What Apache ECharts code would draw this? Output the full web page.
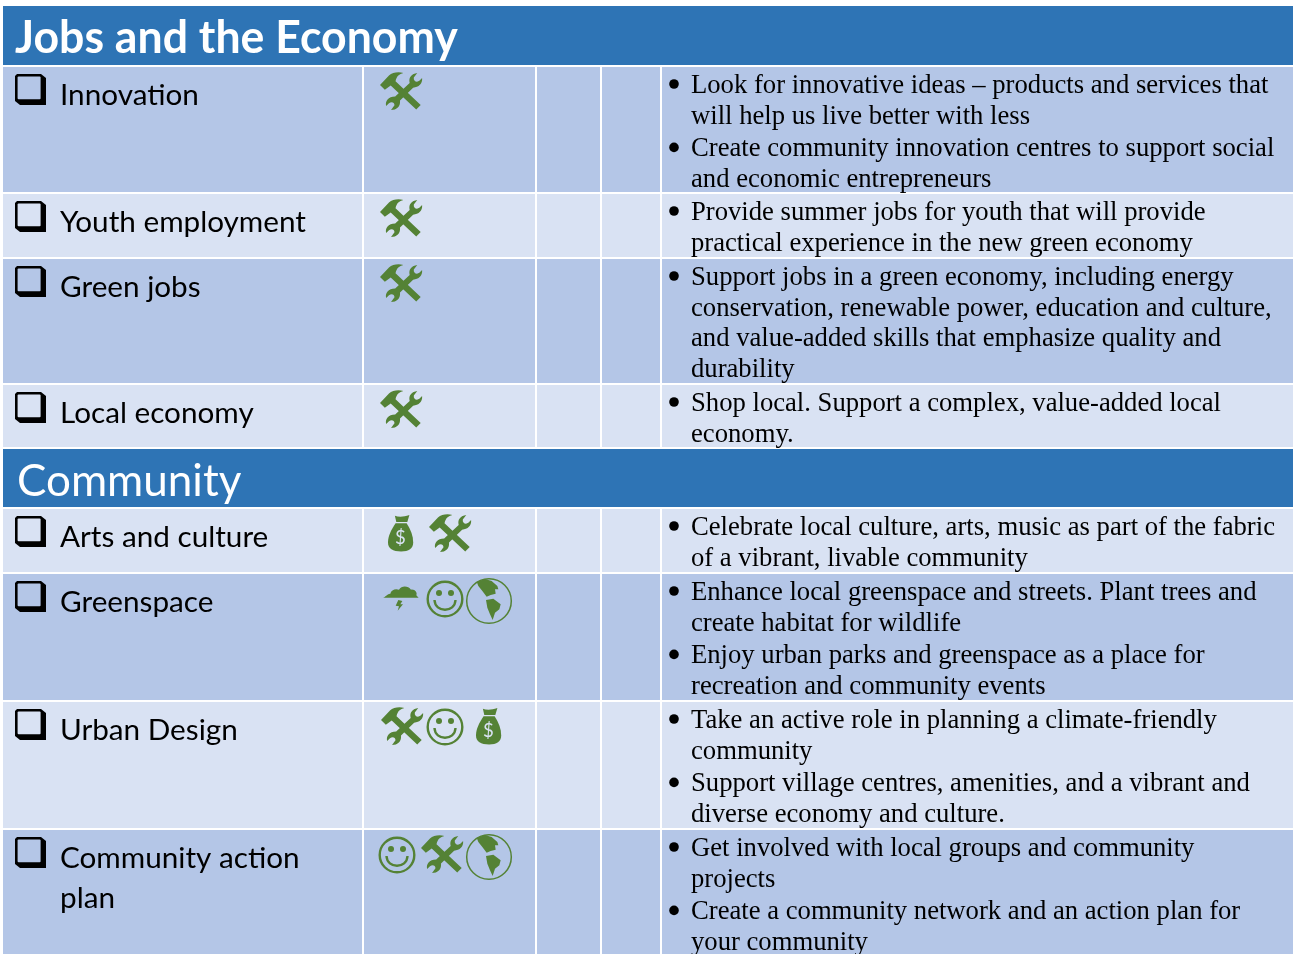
<!DOCTYPE html>
<html>
<head>
<meta charset="utf-8">
<style>html,body{margin:0;padding:0;background:#fff}#chart{width:1293px;height:954px}</style>
<script src="https://cdn.jsdelivr.net/npm/echarts@6/dist/echarts.min.js"></script>
</head>
<body>
<div id="chart"></div>
<script>
// ---- content ----
const sectionTitles = ['Jobs and the Economy', 'Community'];
const jobsTopics = [['Innovation'], ['Youth employment'], ['Green jobs'], ['Local economy']];
const communityTopics = [['Arts and culture'], ['Greenspace'], ['Urban Design'], ['Community action', 'plan']];
const jobsIcons = [['tools'], ['tools'], ['tools'], ['tools']];
const communityIcons = [['bag', 'tools'], ['cloud', 'smile', 'globe'], ['tools', 'smile', 'bag'], ['smile', 'tools', 'globe']];
const jobsActions = [
  [['Look for innovative ideas – products and services that', 'will help us live better with less'],
   ['Create community innovation centres to support social', 'and economic entrepreneurs']],
  [['Provide summer jobs for youth that will provide', 'practical experience in the new green economy']],
  [['Support jobs in a green economy, including energy', 'conservation, renewable power, education and culture,', 'and value-added skills that emphasize quality and', 'durability']],
  [['Shop local. Support a complex, value-added local', 'economy.']]
];
const communityActions = [
  [['Celebrate local culture, arts, music as part of the fabric', 'of a vibrant, livable community']],
  [['Enhance local greenspace and streets. Plant trees and', 'create habitat for wildlife'],
   ['Enjoy urban parks and greenspace as a place for', 'recreation and community events']],
  [['Take an active role in planning a climate-friendly', 'community'],
   ['Support village centres, amenities, and a vibrant and', 'diverse economy and culture.']],
  [['Get involved with local groups and community', 'projects'],
   ['Create a community network and an action plan for', 'your community']]
];

// ---- layout ----
const columnEdges = [[3, 362], [364, 535], [537, 600], [602, 660], [662, 1293]];
const rowEdges = [[6, 65], [67, 192], [194, 257], [259, 383], [385, 447], [449, 507], [509, 572], [574, 700], [702, 828], [830, 954]];
const iconXs = [[380], [380], [380], [380], [], [388, 429], [383, 445, 489], [381, 445, 476], [397, 421, 489]];
const COLORS = { head: '#2e74b5', dark: '#b4c6e7', light: '#d9e2f3', green: '#548235', ink: '#000000' };
const SERIF = '"Liberation Serif"';
const SANS = 'Lato';

const tableRows = [];
tableRows.push({ kind: 'head', title: sectionTitles[0], bold: true });
jobsTopics.forEach((t, i) => tableRows.push({ kind: 'row', topic: t, icons: jobsIcons[i], actions: jobsActions[i] }));
tableRows.push({ kind: 'head', title: sectionTitles[1], bold: false });
communityTopics.forEach((t, i) => tableRows.push({ kind: 'row', topic: t, icons: communityIcons[i], actions: communityActions[i] }));
const bandOf = [null, 'dark', 'light', 'dark', 'light', null, 'light', 'dark', 'light', 'dark'];

// ---- icons ----
const TOOLS_HAMMER = 'M0,38 L26,10 C36,2 52,-2 68,3 C56,6 48,12 45,27 L118,97 L105,110 L31,40 L14,52 Z';
const TOOLS_WRENCH = 'M86,32 C82,16 92,5 108,3 L98,16 C96,26 106,32 114,26 L122,18 C124,34 112,46 96,46 L58,84 C60,102 48,112 32,112 L42,98 C42,90 34,86 26,92 L18,100 C14,86 24,72 44,72 Z';
const BAG_KNOT = 'M20,2 C30,6 45,6 62,0 L56,20 L24,20 Z';
const BAG_BODY = 'M22,24 L54,24 C66,42 73,60 73,80 C73,98 60,106 38,106 C14,106 0,98 0,80 C0,60 10,42 22,24 Z';
const CLOUD = 'M0,38 C8,36 10,28 22,26 C24,14 38,10 48,14 C56,0 76,2 84,14 C96,12 104,24 100,30 C102,34 105,36 107,38 Z';
const BOLT = 'M46,45 L58,48 L52,58 L60,58 L44,77 L48,64 L38,62 Z';
const N_AMERICA = 'M-37,-58 L-12,-66 L8,-60 L25,-45 L28,-35 L18,-35 L20,-22 L5,-18 L-7,-13 L-20,-30 L-32,-45 Z';
const S_AMERICA = 'M-9,-3 L13,-7 L35,10 L31,25 L18,35 L11,57 L3,40 L-5,20 Z';

function green(path) { return { type: 'path', shape: { pathData: path }, style: { fill: COLORS.green } }; }
function iconEl(name, x, top, bg) {
  const s = 1 / 3;
  if (name === 'tools') {
    return { type: 'group', x: x, y: top + 5, scaleX: 0.345, scaleY: 0.34, children: [green(TOOLS_HAMMER), green(TOOLS_WRENCH)] };
  }
  if (name === 'bag') {
    return { type: 'group', x: x, y: top + 6, scaleX: 0.345, scaleY: 0.345, children: [green(BAG_KNOT), green(BAG_BODY),
      { type: 'text', x: 36, y: 68, style: { text: '$', fill: bg, font: '54px ' + SANS, textAlign: 'center', textVerticalAlign: 'middle' } }] };
  }
  if (name === 'cloud') {
    return { type: 'group', x: x, y: top + 11, scaleX: s, scaleY: s, children: [green(CLOUD), green(BOLT)] };
  }
  if (name === 'smile') {
    return { type: 'group', x: x, y: top + 25, children: [
      { type: 'circle', shape: { cx: 0, cy: 0, r: 17.3 }, style: { fill: 'none', stroke: COLORS.green, lineWidth: 2.4 } },
      { type: 'circle', shape: { cx: -6, cy: -6, r: 3 }, style: { fill: COLORS.green } },
      { type: 'circle', shape: { cx: 6, cy: -6, r: 3 }, style: { fill: COLORS.green } },
      { type: 'path', shape: { pathData: 'M-10.5,1 C-10,14 10,14 10.5,1' }, style: { fill: 'none', stroke: COLORS.green, lineWidth: 2.4 } }
    ] };
  }
  return { type: 'group', x: x, y: top + 27, children: [
    { type: 'circle', shape: { cx: 0, cy: 0, r: 22.3 }, style: { fill: 'none', stroke: COLORS.green, lineWidth: 1.5 } },
    { type: 'group', scaleX: s, scaleY: s, children: [green(N_AMERICA), green(S_AMERICA)] }
  ] };
}

function checkbox(x, y, bg) {
  return { type: 'group', x: x, y: y, children: [
    { type: 'path', shape: { pathData: 'M2,0 L26,0 L31,4 L31,31 L5,31 L0,27 L0,2 Z' }, style: { fill: COLORS.ink } },
    { type: 'rect', shape: { x: 2.6, y: 2.6, width: 23, height: 22.6, r: 1 }, style: { fill: bg } }
  ] };
}

function renderRow(params, api) {
  const idx = api.value(0);
  const row = tableRows[idx];
  const yTop = api.coord([0, api.value(1)])[1];
  const yBot = api.coord([0, api.value(2)])[1];
  const children = [];
  if (row.kind === 'head') {
    const left = api.coord([columnEdges[0][0], 0])[0];
    const right = api.coord([columnEdges[4][1], 0])[0];
    children.push({ type: 'rect', shape: { x: left, y: yTop, width: right - left, height: yBot - yTop }, style: { fill: COLORS.head } });
    children.push({ type: 'text', x: row.bold ? 15 : 17, y: yTop + (row.bold ? 32 : 33), scaleX: row.bold ? 0.97 : 1, style: {
      text: row.title, fill: '#ffffff', font: (row.bold ? 'bold 46px ' : '44px ') + SANS, textVerticalAlign: 'middle' } });
  } else {
    const bg = COLORS[bandOf[idx]];
    columnEdges.forEach(c => {
      const a = api.coord([c[0], 0])[0], b = api.coord([c[1], 0])[0];
      children.push({ type: 'rect', shape: { x: a, y: yTop, width: b - a, height: yBot - yTop }, style: { fill: bg } });
    });
    children.push(checkbox(15, yTop + 7, bg));
    row.topic.forEach((t, k) => children.push({ type: 'text', x: 60, y: yTop + 28.5 + k * 40, style: {
      text: t, fill: COLORS.ink, font: '29.7px ' + SANS, textVerticalAlign: 'middle' } }));
    row.icons.forEach((name, k) => children.push(iconEl(name, iconXs[idx - 1][k], yTop, bg)));
    let ly = yTop + 17;
    row.actions.forEach((para) => {
      children.push({ type: 'circle', shape: { cx: 674, cy: ly, r: 4.8 }, style: { fill: COLORS.ink } });
      para.forEach((line) => {
        children.push({ type: 'text', x: 691, y: ly + 2, style: { text: line, fill: COLORS.ink, font: '26.67px ' + SERIF, textVerticalAlign: 'middle' } });
        ly += 30.7;
      });
      ly += 2;
    });
  }
  return { type: 'group', children: children };
}

const chart = echarts.init(document.getElementById('chart'), null, { renderer: 'canvas' });
chart.setOption({
  animation: false,
  backgroundColor: '#ffffff',
  grid: { left: 0, right: 0, top: 0, bottom: 0 },
  xAxis: { type: 'value', min: 0, max: 1293, show: false },
  yAxis: { type: 'value', min: 0, max: 954, inverse: true, show: false },
  series: [{
    type: 'custom',
    silent: true,
    clip: false,
    renderItem: renderRow,
    data: tableRows.map((r, i) => [i, rowEdges[i][0], rowEdges[i][1]])
  }]
});
</script>
</body>
</html>
